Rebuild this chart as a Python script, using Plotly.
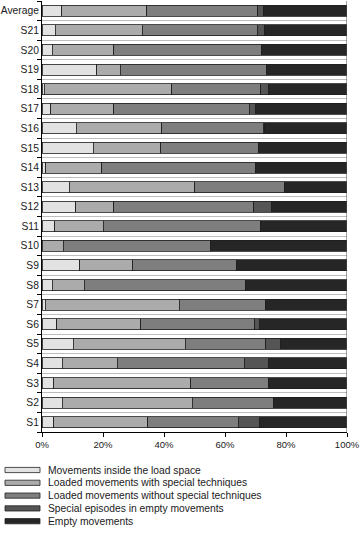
import plotly.graph_objects as go

categories = ["S1", "S2", "S3", "S4", "S5", "S6", "S7", "S8", "S9", "S10", "S11",
              "S12", "S13", "S14", "S15", "S16", "S17", "S18", "S19", "S20", "S21", "Average"]

series_names = [
    "Movements inside the load space",
    "Loaded movements with special techniques",
    "Loaded movements without special techniques",
    "Special episodes in empty movements",
    "Empty movements",
]

inside_load_space = [3.8, 6.7, 3.8, 6.7, 10.3, 4.9, 1.1, 3.3, 12.3, 0.0, 4.1,
                     11.0, 9.0, 1.2, 16.8, 11.3, 2.8, 0.7, 17.9, 3.3, 4.4, 6.4]
loaded_special = [30.8, 42.6, 44.9, 17.9, 36.7, 27.5, 43.9, 10.6, 17.5, 7.0, 16.0,
                  12.6, 41.0, 18.4, 22.1, 28.0, 20.8, 41.9, 7.7, 20.3, 28.5, 28.0]
loaded_no_special = [29.7, 26.7, 25.7, 41.7, 26.4, 37.3, 28.3, 52.9, 34.1, 48.4, 51.7,
                     45.8, 29.6, 50.5, 32.1, 33.2, 44.3, 29.2, 47.9, 48.4, 37.6, 36.3]
special_empty = [7.1, 0.0, 0.0, 8.0, 4.8, 1.7, 0.0, 0.0, 0.0, 0.0, 0.0,
                 5.9, 0.0, 0.0, 0.0, 0.4, 2.2, 2.5, 0.0, 0.0, 2.3, 2.0]
empty_moves = [28.6, 24.0, 25.6, 25.7, 21.8, 28.6, 26.7, 33.2, 36.1, 44.6, 28.2,
               24.7, 20.4, 29.9, 29.0, 27.1, 29.9, 25.7, 26.5, 28.0, 27.2, 27.3]

x_ticks = [0, 20, 40, 60, 80, 100]
x_tick_labels = ["0%", "20%", "40%", "60%", "80%", "100%"]
colors = ["#e2e2e2", "#ababab", "#7e7e7e", "#555555", "#262626"]

series_values = [inside_load_space, loaded_special, loaded_no_special, special_empty, empty_moves]

FONT = "Liberation Sans, Arial, sans-serif"

fig = go.Figure()
for name, vals, col in zip(series_names, series_values, colors):
    fig.add_trace(go.Bar(
        y=categories, x=vals, name=name, orientation="h",
        marker=dict(color=col, line=dict(color="#1e1e1e", width=0.8)),
        showlegend=False,
    ))

# Manual legend (wide rectangular swatches)
L, T, R, B = 42, 1, 13, 103
W, H = 360, 535
pw, ph = W - L - R, H - T - B
shapes = []
annotations = []
for i, (name, col) in enumerate(zip(series_names, colors)):
    yc = 470 + i * 12.8
    y0 = (H - B - (yc + 2.6)) / ph
    y1 = (H - B - (yc - 2.6)) / ph
    shapes.append(dict(type="rect", xref="paper", yref="paper",
                       x0=(5 - L) / pw, x1=(40 - L) / pw, y0=y0, y1=y1,
                       fillcolor=col, line=dict(color="#222222", width=0.8)))
    annotations.append(dict(text=name, xref="paper", yref="paper",
                            x=(46 - L) / pw, y=(H - B - yc) / ph,
                            xanchor="left", yanchor="middle", showarrow=False,
                            font=dict(size=10.3, color="#1a1a1a", family=FONT)))

shapes.append(dict(type="line", xref="x", yref="y domain", x0=100, x1=100, y0=0, y1=1,
                   line=dict(color="#4a4a4a", width=1)))

fig.update_layout(
    barmode="stack",
    bargap=0.44,
    width=W, height=H,
    margin=dict(l=L, r=R, t=T, b=B, autoexpand=False),
    paper_bgcolor="white", plot_bgcolor="white",
    font=dict(family=FONT, size=10.3, color="#1a1a1a"),
    shapes=shapes,
    annotations=annotations,
    showlegend=False,
)
fig.update_xaxes(range=[0, 100], tickvals=x_ticks, ticktext=x_tick_labels,
                 tickfont=dict(size=9.5),
                 ticks="outside", ticklen=4, tickcolor="black",
                 showline=True, linecolor="black", linewidth=1,
                 showgrid=False, zeroline=False, fixedrange=True,
                 automargin=False, ticklabeloverflow="allow")
fig.update_yaxes(type="category", categoryorder="array", categoryarray=categories,
                 tickson="boundaries", ticks="outside", ticklen=4, tickcolor="black",
                 showline=True, linecolor="black", linewidth=1,
                 showgrid=True, gridcolor="#bdbdbd", gridwidth=1,
                 zeroline=False, fixedrange=True,
                 automargin=False, ticklabeloverflow="allow")

fig.write_html(
    "out.html",
    config={"displayModeBar": False},
    post_script="document.body.style.margin='0';document.body.style.padding='0';"
                "document.body.style.overflow='hidden';",
)
